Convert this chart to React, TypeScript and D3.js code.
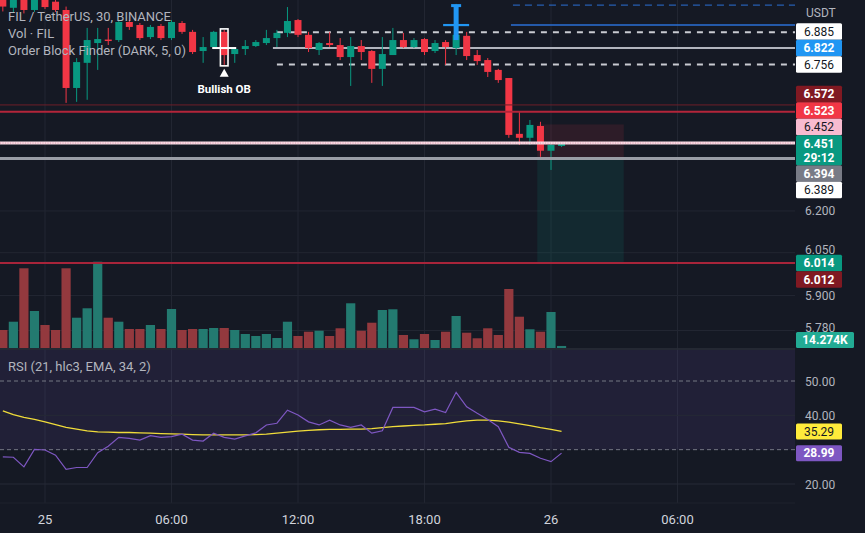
import React from 'react';
import * as d3 from 'd3';

const W = 865;
const H = 533;
const BG = '#151924';
const UP = '#089981';
const DOWN = '#f23645';
const VOL_UP = '#237a70';
const VOL_DOWN = '#93393e';

// candle index of first candle (0 = 25 00:00, 30-minute candles)
const FIRST = -4;
const opens = [7.03, 6.985, 7.06, 6.976, 7.03, 7.01, 6.976, 6.664, 6.763, 6.842, 6.856, 6.854, 6.927, 6.915, 6.866, 6.911, 6.862, 6.923, 6.887, 6.81, 6.826, 6.887, 6.798, 6.818, 6.83, 6.842, 6.862, 6.883, 6.935, 6.875, 6.814, 6.842, 6.834, 6.786, 6.83, 6.81, 6.739, 6.794, 6.854, 6.826, 6.858, 6.81, 6.846, 6.822, 6.871, 6.794, 6.774, 6.735, 6.703, 6.487, 6.472, 6.517, 6.423, 6.441];
const highs = [7.045, 7.05, 7.08, 7.04, 7.04, 7.02, 6.99, 6.782, 6.903, 6.903, 6.903, 6.935, 6.935, 6.923, 6.915, 6.919, 6.935, 6.931, 6.895, 6.866, 6.891, 6.895, 6.822, 6.854, 6.854, 6.895, 6.895, 6.988, 6.939, 6.887, 6.846, 6.887, 6.862, 6.866, 6.854, 6.814, 6.866, 6.903, 6.883, 6.862, 6.862, 6.854, 6.854, 7.001, 6.887, 6.814, 6.782, 6.739, 6.703, 6.571, 6.54, 6.533, 6.453, 6.456];
const lows = [6.97, 6.965, 6.962, 6.968, 6.98, 6.968, 6.606, 6.61, 6.618, 6.735, 6.834, 6.846, 6.895, 6.854, 6.858, 6.854, 6.854, 6.879, 6.798, 6.763, 6.822, 6.755, 6.763, 6.794, 6.826, 6.834, 6.826, 6.866, 6.866, 6.806, 6.794, 6.826, 6.774, 6.672, 6.774, 6.684, 6.672, 6.794, 6.822, 6.822, 6.794, 6.802, 6.755, 6.794, 6.774, 6.755, 6.707, 6.684, 6.472, 6.445, 6.445, 6.4, 6.351, 6.437];
const closes = [6.99, 7.025, 6.976, 7.02, 6.988, 6.976, 6.664, 6.766, 6.854, 6.858, 6.85, 6.927, 6.907, 6.862, 6.907, 6.862, 6.927, 6.887, 6.806, 6.826, 6.887, 6.794, 6.818, 6.83, 6.846, 6.862, 6.883, 6.931, 6.875, 6.822, 6.842, 6.834, 6.786, 6.83, 6.806, 6.739, 6.798, 6.854, 6.826, 6.854, 6.806, 6.842, 6.826, 6.875, 6.79, 6.77, 6.727, 6.695, 6.483, 6.472, 6.521, 6.423, 6.445, 6.451];
// volume in thousands FIL
const volumes = [126, 184, 558, 259, 161, 126, 558, 212, 278, 604, 212, 184, 133, 133, 161, 133, 273, 126, 133, 133, 140, 140, 126, 98, 84, 98, 70, 184, 84, 114, 121, 84, 138, 313, 121, 177, 266, 271, 91, 61, 98, 56, 114, 224, 107, 68, 138, 91, 413, 219, 131, 114, 252, 14.274];
const rsiValues = [27.9, 27.8, 25.0, 30.1, 29.9, 28.4, 24.3, 24.8, 24.8, 29.1, 31.0, 33.6, 33.3, 32.8, 34.1, 33.6, 33.8, 34.5, 32.8, 32.5, 34.8, 33.6, 33.1, 34.0, 34.9, 37.2, 37.7, 41.5, 40.1, 38.1, 37.2, 38.6, 37.2, 36.5, 37.2, 34.8, 35.5, 42.3, 42.3, 42.3, 41.0, 41.8, 40.8, 46.7, 42.5, 40.6, 38.8, 36.7, 30.7, 29.2, 28.9, 27.5, 26.5, 29.0];
const rsiMaValues = [41.3, 40.2, 39.4, 38.8, 38.1, 37.3, 36.5, 36.0, 35.5, 35.2, 35.1, 35.0, 35.0, 34.9, 34.8, 34.7, 34.6, 34.5, 34.4, 34.3, 34.3, 34.3, 34.3, 34.3, 34.4, 34.5, 34.8, 35.1, 35.4, 35.6, 35.8, 35.9, 35.9, 36.0, 36.0, 36.1, 36.4, 36.7, 36.9, 37.1, 37.2, 37.4, 37.6, 38.0, 38.4, 38.6, 38.6, 38.4, 38.0, 37.5, 37.0, 36.4, 35.9, 35.3];

const timeTickIdx = [0, 12, 24, 36, 48, 60];
const timeTickLabels = ['25', '06:00', '12:00', '18:00', '26', '06:00'];
const priceTicks = [6.2, 6.05, 5.9, 5.78];
const priceTickLabels = ['6.200', '6.050', '5.900', '5.780'];
const rsiGridTicks = [40, 20];
const rsiBandTicks = [50, 30];
const rsiTickLabels = ['50.00', '40.00', '20.00'];
const rsiTickValues = [50, 40, 20];

// Order block levels
const bullObIdx = 17;
const bullObTop = 6.885;
const bullObMid = 6.822;
const bullObBot = 6.756;
const bullLineStart = 22;
const bearObIdx = 39;
const bearObTop = 6.996;
const bearObMid = 6.915;
const bearObBarBottom = 6.854;
const bearLineStart = 44.2;

// other horizontal levels
const redThin = 6.598;
const redThick = 6.572;
const pinkLevel = 6.452;
const grayLevel = 6.394;
const redBottom = 6.014;

// short position tool
const posStart = 46.7;
const posEnd = 54.9;
const posStop = 6.523;
const posEntry = 6.394;
const posTarget = 6.014;

const lastPrice = 6.451;
const countdown = '29:12';
const lastVolumeLabel = '14.274K';

const axisLabelPrices = [6.885, 6.822, 6.756, 6.572, 6.523, 6.452, 6.394, 6.389, 6.014, 6.012];
const axisLabelBg = ['#ffffff', '#2196f3', '#ffffff', '#801922', '#f23645', '#f8bbd0', '#787b86', '#ffffff', '#089981', '#801922'];
const axisLabelFg = ['#131722', '#ffffff', '#131722', '#ffffff', '#ffffff', '#131722', '#ffffff', '#131722', '#ffffff', '#ffffff'];
const axisLabelBold = [false, true, false, true, true, false, true, false, true, true];

const rsiLabelValues = [35.29, 28.99];
const rsiLabelBg = ['#ffeb3b', '#7e57c2'];
const rsiLabelFg = ['#131722', '#ffffff'];

const PLOT_R = 795;
const MAIN_B = 348;
const RSI_T = 350;
const RSI_B = 503;

export default function App() {
  const n = opens.length;
  const idx = d3.range(n).map((k) => FIRST + k);
  const x = d3.scaleLinear().domain([0, 48]).range([45, 551]);
  const y = d3.scaleLog().domain([5.721, 7.017]).range([MAIN_B, 0]);
  const yv = d3.scaleLinear().domain([0, 700]).range([MAIN_B, 248]);
  const yr = d3.scaleLinear().domain([20, 50]).range([484, 381]);

  const rsiLine = d3.line<number>().x((_, k) => x(idx[k])).y((d) => yr(d));
  const LH = 16.5;

  // right axis label collision (anchored around the last price label)
  const anchorY = y(lastPrice);
  const anchorTop = anchorY - 8;
  const anchorBot = anchorY + 22;
  const labels = axisLabelPrices.map((p, k) => ({ p, k, want: y(p), pos: y(p) }));
  const above = labels.filter((l) => l.p > lastPrice).sort((a, b) => b.want - a.want);
  let prevTop = anchorTop;
  above.forEach((l) => {
    l.pos = Math.min(l.want, prevTop - LH / 2);
    prevTop = l.pos - LH / 2;
  });
  const below = labels.filter((l) => l.p < lastPrice).sort((a, b) => a.want - b.want);
  let prevBot = anchorBot;
  below.forEach((l) => {
    l.pos = Math.max(l.want, prevBot + LH / 2);
    prevBot = l.pos + LH / 2;
  });
  const volLabelY = Math.min(yv(volumes[n - 1]), MAIN_B - 8);
  // occupied label boxes, so tick texts can be kept just clear of them
  const boxes = labels.map((l) => [l.pos - LH / 2, l.pos + LH / 2]).concat([[volLabelY - 8, volLabelY + 8]]);
  const tickBaseline = (p: number) => {
    let b = y(p) + 4.5;
    boxes.forEach(([t, btm]) => {
      if (b > t - 0.5 && b - 9 < btm) b = t - 0.5;
    });
    return b;
  };

  const bx = x(bullObIdx);
  const bLow = y(lows[bullObIdx - FIRST]);
  const bHigh = y(highs[bullObIdx - FIRST]);
  const rx = x(bearObIdx);

  const hLine = (p: number, x0: number, color: string, w: number, dash?: string) => (
    <line x1={x0} x2={PLOT_R} y1={y(p)} y2={y(p)} stroke={color} strokeWidth={w} strokeDasharray={dash} />
  );

  return (
    <div style={{ position: 'absolute', left: 0, top: 0 }}>
      <svg width={W} height={H} style={{ display: 'block', background: BG }} fontFamily="Roboto, 'Noto Sans', sans-serif">
        <defs>
          <clipPath id="mainClip">
            <rect x={0} y={0} width={PLOT_R} height={MAIN_B} />
          </clipPath>
          <clipPath id="rsiClip">
            <rect x={0} y={RSI_T} width={PLOT_R} height={RSI_B - RSI_T} />
          </clipPath>
        </defs>

        {/* vertical grid */}
        {timeTickIdx.map((t, k) => (
          <line key={'vg' + k} x1={x(t)} x2={x(t)} y1={0} y2={RSI_B} stroke="#222632" strokeWidth={1} />
        ))}

        <g clipPath="url(#mainClip)">
          {priceTicks.map((p, k) => (
            <line key={'hg' + k} x1={0} x2={PLOT_R} y1={y(p)} y2={y(p)} stroke="#222632" strokeWidth={1} />
          ))}

          {/* position tool */}
          <rect x={x(posStart)} width={x(posEnd) - x(posStart)} y={y(posStop)} height={y(posEntry) - y(posStop)} fill="rgba(242,54,69,0.11)" />
          <rect x={x(posStart)} width={x(posEnd) - x(posStart)} y={y(posEntry)} height={y(posTarget) - y(posEntry)} fill="rgba(8,153,129,0.13)" />

          {/* volume */}
          {volumes.map((v, k) => (
            <rect
              key={'v' + k}
              x={x(idx[k]) - 4.6}
              width={9.2}
              y={yv(v)}
              height={MAIN_B - yv(v)}
              fill={closes[k] >= opens[k] ? VOL_UP : VOL_DOWN}
            />
          ))}

          {/* OB lines */}
          {hLine(bullObMid, x(bullLineStart) - 4, '#b2b5be', 2)}
          {hLine(bullObTop, x(bullLineStart), '#c9cbd1', 2, '6 6')}
          {hLine(bullObBot, x(bullLineStart), '#c9cbd1', 2, '6 6')}
          {hLine(bearObTop, x(bearLineStart) + 2, '#2a6fd6', 1, '7 5')}
          {hLine(bearObMid, x(bearLineStart), '#2a6fd6', 1.5)}

          {/* candles */}
          {idx.map((t, k) => {
            const up = closes[k] >= opens[k];
            const c = up ? UP : DOWN;
            const cx = x(t);
            const yo = y(opens[k]);
            const yc = y(closes[k]);
            return (
              <g key={'c' + k}>
                <line x1={cx} x2={cx} y1={y(highs[k])} y2={y(lows[k])} stroke={c} strokeWidth={1} />
                <rect x={cx - 3.5} width={7} y={Math.min(yo, yc)} height={Math.max(1, Math.abs(yo - yc))} fill={c} />
              </g>
            );
          })}

          {/* bullish OB marker */}
          <rect x={bx - 3.8} width={7.6} y={bHigh - 1} height={bLow - bHigh + 2} fill="none" stroke="#ffffff" strokeWidth={1.6} />
          <rect
            x={bx - 3}
            width={6}
            y={y(opens[bullObIdx - FIRST]) + 1}
            height={y(closes[bullObIdx - FIRST]) - y(opens[bullObIdx - FIRST]) - 1}
            fill={DOWN}
          />
          <line x1={bx - 12} x2={bx + 12} y1={y(bullObMid)} y2={y(bullObMid)} stroke="#ffffff" strokeWidth={2} />
          <polygon points={`${bx},${bLow + 4} ${bx - 4.5},${bLow + 12} ${bx + 4.5},${bLow + 12}`} fill="#ffffff" />
          <text x={bx} y={bLow + 28} textAnchor="middle" fill="#ffffff" fontSize={11.5} fontWeight={700}>
            Bullish OB
          </text>

          {/* bearish OB marker */}
          <rect x={rx - 2.5} width={5} y={y(bearObTop)} height={y(bearObBarBottom) - y(bearObTop)} fill="#2196f3" />
          <rect x={rx - 5} width={10} y={y(bearObTop) - 1} height={3} fill="#2196f3" />
          <rect x={rx - 13} width={26} y={y(bearObMid) - 1} height={2.2} fill="#2196f3" />

          {/* horizontal levels */}
          {hLine(redThin, 0, '#6e1f29', 1)}
          {hLine(redThick, 0, '#b3253a', 2)}
          {hLine(pinkLevel, 0, '#f9dbe4', 3)}
          {hLine(pinkLevel, 0, '#e09ab0', 1, '1 1.5')}
          {hLine(grayLevel, 0, '#9a9da6', 3)}
          {hLine(redBottom, 0, '#a8243a', 2)}
        </g>

        {/* legend */}
        <g fill="#b2b5be" fontSize={13}>
          <text x={8} y={21}>FIL / TetherUS, 30, BINANCE</text>
          <text x={8} y={38}>Vol · FIL</text>
          <text x={8} y={55}>Order Block Finder (DARK, 5, 0)</text>
        </g>

        {/* pane separator */}
        <line x1={0} x2={W} y1={349} y2={349} stroke="#2a2e39" strokeWidth={1.5} />

        {/* RSI pane */}
        <g clipPath="url(#rsiClip)">
          <rect x={0} y={yr(70)} width={PLOT_R} height={yr(30) - yr(70)} fill="rgba(126,87,194,0.12)" />
          {rsiGridTicks.map((v, k) => (
            <line key={'rg' + k} x1={0} x2={PLOT_R} y1={yr(v)} y2={yr(v)} stroke="#262a36" strokeWidth={1} />
          ))}
          {rsiBandTicks.map((v, k) => (
            <line key={'rb' + k} x1={0} x2={PLOT_R} y1={yr(v)} y2={yr(v)} stroke="#8a8d97" strokeWidth={1} strokeDasharray="4 3" opacity={0.8} />
          ))}
          <path d={rsiLine(rsiMaValues) || ''} fill="none" stroke="#f0dc3a" strokeWidth={1.3} />
          <path d={rsiLine(rsiValues) || ''} fill="none" stroke="#7e57c2" strokeWidth={1.2} />
        </g>
        <text x={8} y={371} fill="#b2b5be" fontSize={13}>RSI (21, hlc3, EMA, 34, 2)</text>

        {/* x axis */}
        <line x1={0} x2={W} y1={RSI_B} y2={RSI_B} stroke="#1e222d" strokeWidth={1} />
        {timeTickIdx.map((t, k) => (
          <text key={'xt' + k} x={x(t)} y={524} textAnchor="middle" fill="#d1d4dc" fontSize={13}>
            {timeTickLabels[k]}
          </text>
        ))}

        {/* right axis */}
        <rect x={PLOT_R} y={0} width={W - PLOT_R} height={H} fill={BG} />
        <text x={806} y={17} fill="#b2b5be" fontSize={12}>USDT</text>
        {priceTicks.map((p, k) => (
          <text key={'pt' + k} x={805} y={tickBaseline(p)} fill="#b2b5be" fontSize={12}>
            {priceTickLabels[k]}
          </text>
        ))}
        {labels.map((l) => (
          <g key={'al' + l.k}>
            <rect x={796} y={l.pos - LH / 2} width={46} height={LH} fill={axisLabelBg[l.k]} rx={1.5} />
            <text x={819} y={l.pos + 4.3} textAnchor="middle" fill={axisLabelFg[l.k]} fontSize={12} fontWeight={axisLabelBold[l.k] ? 700 : 400}>
              {axisLabelPrices[l.k].toFixed(3)}
            </text>
          </g>
        ))}
        <rect x={796} y={anchorTop} width={46} height={anchorBot - anchorTop} fill={UP} rx={1.5} />
        <text x={819} y={anchorY + 4.3} textAnchor="middle" fill="#ffffff" fontSize={12} fontWeight={700}>
          {lastPrice.toFixed(3)}
        </text>
        <text x={819} y={anchorY + 18.3} textAnchor="middle" fill="#ffffff" fontSize={12} fontWeight={700}>
          {countdown}
        </text>
        <rect x={796} y={volLabelY - 8} width={58} height={16} fill="#22ab94" rx={1.5} />
        <text x={825} y={volLabelY + 4.3} textAnchor="middle" fill="#ffffff" fontSize={12} fontWeight={700}>
          {lastVolumeLabel}
        </text>

        {rsiTickValues.map((v, k) => (
          <text key={'rt' + k} x={805} y={yr(v) + 4.5} fill="#b2b5be" fontSize={12}>
            {rsiTickLabels[k]}
          </text>
        ))}
        {rsiLabelValues.map((v, k) => (
          <g key={'rl' + k}>
            <rect x={796} y={yr(v) - 8} width={46} height={16} fill={rsiLabelBg[k]} rx={1.5} />
            <text x={819} y={yr(v) + 4.3} textAnchor="middle" fill={rsiLabelFg[k]} fontSize={12} fontWeight={k === 1 ? 700 : 400}>
              {v.toFixed(2)}
            </text>
          </g>
        ))}
      </svg>
    </div>
  );
}
